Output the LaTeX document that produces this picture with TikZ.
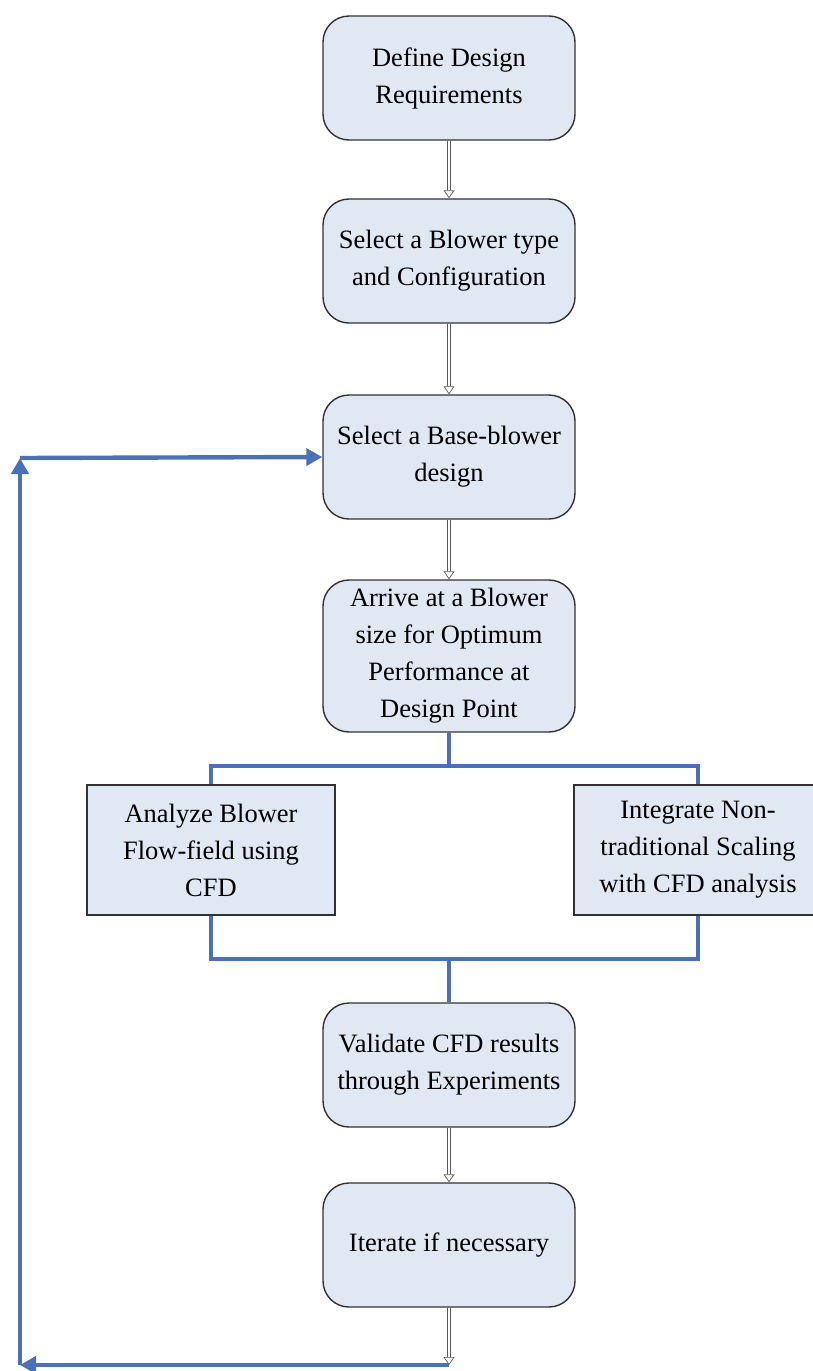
\documentclass[tikz,border=0pt]{standalone}
\usepackage{fontspec}
\setmainfont{Liberation Serif}
\usetikzlibrary{arrows.meta}
\definecolor{flowblue}{RGB}{74,112,184}
\definecolor{boxfill}{RGB}{224,232,244}
\definecolor{boxline}{RGB}{50,50,50}

\begin{document}
\begin{tikzpicture}[x=1pt,y=-1pt]

%
% Styles
%
\tikzstyle{stepround} = [rectangle,rounded corners=26pt,draw=boxline,fill=boxfill,line width=1.4pt,
  minimum width=252pt,minimum height=124pt,align=center,font=\fontsize{26.5}{37}\selectfont]
\tikzstyle{stepsquare} = [rectangle,draw=boxline,fill=boxfill,line width=1.4pt,
  minimum width=248pt,minimum height=130pt,align=center,font=\fontsize{26.5}{37}\selectfont]
\tikzstyle{hollow} = [draw=black!65,line width=0.7pt,double=white,double distance=2.6pt,
  -{Triangle[open,length=8pt,width=11pt]}]
\tikzstyle{bluelink} = [draw=flowblue,line width=4.4pt]
\tikzstyle{bluearrow} = [bluelink,-{Triangle[length=16pt,width=17pt]}]

\useasboundingbox (0,0) rectangle (813,1371);

\node[stepround] (def)   at (449,  78) {Define Design\\Requirements};
\node[stepround] (btype) at (449, 261) {Select a Blower type\\and Configuration};
\node[stepround] (bbase) at (449, 457) {Select a Base-blower\\design};
\node[stepround,minimum height=152pt] (bsize) at (449, 656)
  {Arrive at a Blower\\size for Optimum\\Performance at\\Design Point};
\node[stepsquare] (cfd)  at (211, 850) {Analyze Blower\\Flow-field using\\CFD};
\node[stepsquare] (nts)  at (698, 850) {Integrate Non-\\traditional Scaling\\with CFD analysis};
\node[stepround] (valid) at (449,1065) {Validate CFD results\\through Experiments};
\node[stepround] (iter)  at (449,1245) {Iterate if necessary};

\coordinate (lpbot)  at (449,1365);
\coordinate (lpleft) at ( 20,1365);
\coordinate (lptop)  at ( 20, 458);

\path[hollow] (def)   -- (btype);
\path[hollow] (btype) -- (bbase);
\path[hollow] (bbase) -- (bsize);
\path[hollow] (valid) -- (iter);
\path[hollow] (iter)  -- (lpbot);

% split and merge
\draw[bluelink] (bsize.south) -- ++(0,33) -| (cfd.north);
\draw[bluelink] (bsize.south) -- ++(0,33) -| (nts.north);
\draw[bluelink] (cfd.south) |- (449,959) -- (valid.north);
\draw[bluelink] (nts.south) |- (449,959);

% loop back
\draw[bluearrow] (lpbot)  -- (lpleft);
\draw[bluearrow] (lpleft) -- (lptop);
\draw[bluearrow] (lptop)  -- (bbase.west);

\end{tikzpicture}
\end{document}
